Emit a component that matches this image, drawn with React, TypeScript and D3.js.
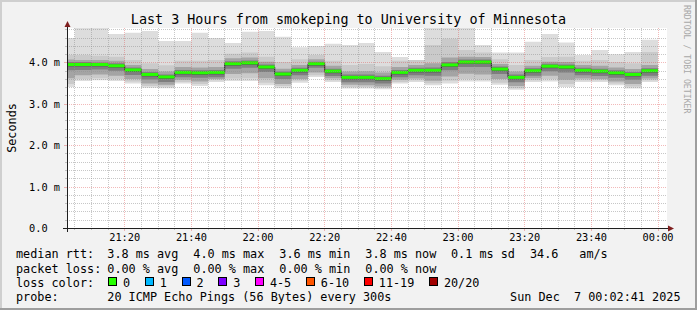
import React from "react";
import * as d3 from "d3";

// ---- data ----
const medianRtt = [3.96, 3.96, 3.96, 3.93, 3.83, 3.72, 3.66, 3.77, 3.76, 3.77, 3.98, 4.0, 3.9, 3.73, 3.82, 3.98, 3.8, 3.65, 3.65, 3.62, 3.77, 3.82, 3.82, 3.95, 4.02, 4.02, 3.85, 3.65, 3.81, 3.92, 3.9, 3.82, 3.8, 3.76, 3.72, 3.81];
const ping20 = [4.6, 5.0, 5.0, 4.7, 4.73, 4.77, 4.53, 4.53, 4.73, 4.6, 4.48, 4.75, 4.77, 4.63, 4.38, 4.41, 4.46, 4.43, 4.48, 4.26, 4.14, 4.07, 5.0, 5.0, 5.0, 4.43, 4.25, 4.25, 4.51, 4.7, 4.49, 4.19, 4.31, 4.21, 4.26, 4.56];
const ping19 = [4.19, 4.19, 4.17, 4.15, 4.07, 3.99, 3.94, 4.05, 4.05, 4.07, 4.22, 4.25, 4.15, 4.02, 4.09, 4.19, 4.05, 3.95, 3.97, 3.92, 4.05, 4.07, 4.43, 4.58, 4.31, 4.25, 4.09, 3.95, 4.07, 4.14, 4.15, 4.05, 4.07, 4.02, 3.99, 4.26];
const ping17 = [4.08, 4.07, 4.07, 4.05, 3.95, 3.85, 3.79, 3.9, 3.89, 3.9, 4.11, 4.13, 4.03, 3.86, 3.95, 4.09, 3.93, 3.79, 3.8, 3.77, 3.9, 3.95, 3.99, 4.13, 4.15, 4.14, 3.97, 3.79, 3.93, 4.03, 4.02, 3.95, 3.93, 3.89, 3.85, 3.95];
const ping15 = [4.02, 4.02, 4.01, 3.99, 3.89, 3.78, 3.72, 3.83, 3.82, 3.83, 4.04, 4.06, 3.96, 3.79, 3.88, 4.03, 3.86, 3.72, 3.72, 3.69, 3.83, 3.88, 3.89, 4.02, 4.08, 4.08, 3.91, 3.72, 3.87, 3.98, 3.96, 3.88, 3.86, 3.82, 3.78, 3.87];
const ping13 = [3.99, 3.99, 3.99, 3.96, 3.86, 3.75, 3.69, 3.8, 3.79, 3.8, 4.01, 4.03, 3.93, 3.76, 3.85, 4.0, 3.83, 3.68, 3.68, 3.65, 3.8, 3.85, 3.85, 3.98, 4.05, 4.05, 3.88, 3.68, 3.84, 3.95, 3.93, 3.85, 3.83, 3.79, 3.75, 3.84];
const ping8 = [3.91, 3.91, 3.91, 3.88, 3.78, 3.67, 3.61, 3.72, 3.71, 3.72, 3.93, 3.95, 3.85, 3.68, 3.77, 3.93, 3.75, 3.6, 3.6, 3.57, 3.72, 3.77, 3.77, 3.9, 3.97, 3.97, 3.8, 3.6, 3.76, 3.87, 3.85, 3.77, 3.75, 3.71, 3.67, 3.76];
const ping6 = [3.82, 3.83, 3.84, 3.81, 3.71, 3.6, 3.54, 3.65, 3.64, 3.65, 3.86, 3.88, 3.78, 3.61, 3.7, 3.88, 3.68, 3.53, 3.53, 3.5, 3.65, 3.7, 3.69, 3.82, 3.9, 3.9, 3.73, 3.53, 3.69, 3.8, 3.77, 3.7, 3.68, 3.64, 3.59, 3.69];
const ping4 = [3.63, 3.7, 3.72, 3.69, 3.61, 3.5, 3.47, 3.59, 3.55, 3.61, 3.73, 3.75, 3.63, 3.49, 3.61, 3.77, 3.63, 3.47, 3.46, 3.43, 3.59, 3.62, 3.57, 3.67, 3.74, 3.72, 3.61, 3.44, 3.63, 3.69, 3.59, 3.62, 3.61, 3.55, 3.49, 3.62];
const ping2 = [3.49, 3.61, 3.63, 3.61, 3.55, 3.44, 3.43, 3.54, 3.49, 3.58, 3.62, 3.63, 3.52, 3.44, 3.57, 3.7, 3.58, 3.42, 3.42, 3.4, 3.54, 3.58, 3.51, 3.57, 3.61, 3.6, 3.52, 3.39, 3.58, 3.61, 3.49, 3.58, 3.58, 3.5, 3.43, 3.58];
const ping1 = [3.42, 3.56, 3.58, 3.56, 3.5, 3.4, 3.39, 3.5, 3.44, 3.54, 3.56, 3.56, 3.46, 3.39, 3.52, 3.66, 3.54, 3.38, 3.38, 3.36, 3.5, 3.54, 3.46, 3.5, 3.55, 3.55, 3.47, 3.35, 3.54, 3.55, 3.42, 3.54, 3.54, 3.46, 3.38, 3.54];

const xTickLabels = ["21:20", "21:40", "22:00", "22:20", "22:40", "23:00", "23:20", "23:40", "00:00"];
const xTickMinutes = [-160, -140, -120, -100, -80, -60, -40, -20, 0];
const yTickValues = [0, 1, 2, 3, 4];
const yTickLabels = ["0.0", "1.0 m", "2.0 m", "3.0 m", "4.0 m"];

const rttLegend = ["3.8 ms avg", "4.0 ms max", "3.6 ms min", "3.8 ms now", "0.1 ms sd"];
const lossLegend = ["0.00 % avg", "0.00 % max", "0.00 % min", "0.00 % now"];
const amsValue = "34.6";
const lossLabels = ["0", "1", "2", "3", "4-5", "6-10", "11-19", "20/20"];
const lossColors = ["#26ff00", "#00b8ff", "#0059ff", "#7e00ff", "#ff00ff", "#ff5500", "#ff0000", "#a10000"];
const probeText = "20 ICMP Echo Pings (56 Bytes) every 300s";
const dateText = "Sun Dec\u00a0\u00a07 00:02:41 2025";
const titleText = "Last 3 Hours from smokeping to University of Minnesota";

// ---- layout ----
const W = 697, H = 310;
const L = 67, R = 667, T = 28, B = 228;
const MONO = "DejaVu Sans Mono";
const startMin = -(177 + 19 / 60);
const endMin = 2 + 41 / 60;

export default function App() {
  const x = d3.scaleLinear().domain([startMin, endMin]).range([L, R]);
  const y = d3.scaleLinear().domain([0, 4.83]).range([B + 0.5, T + 0.5]);
  const snap = (v: number) => Math.round(v - 0.5) + 0.5;

  const n = medianRtt.length;
  const segs = d3.range(n).map((i) => {
    const end = -175 + 5 * i;
    return { start: Math.max(startMin, end - 5), end, i };
  });

  const bands = [
    { lo: ping1, hi: ping20, color: "#dddddd" },
    { lo: ping2, hi: ping19, color: "#cacaca" },
    { lo: ping4, hi: ping17, color: "#a4a4a4" },
    { lo: ping6, hi: ping15, color: "#7e7e7e" },
    { lo: ping8, hi: ping13, color: "#585858" },
  ];

  type P = { t: number; lo: number; hi: number };
  const area = d3
    .area<P>()
    .x((d) => x(d.t))
    .y0((d) => y(d.lo))
    .y1((d) => y(d.hi));
  const bandPaths = bands.map((b) => {
    const pts: P[] = [];
    segs.forEach((s) => {
      pts.push({ t: s.start, lo: b.lo[s.i], hi: b.hi[s.i] });
      pts.push({ t: s.end, lo: b.lo[s.i], hi: b.hi[s.i] });
    });
    return { d: area(pts) || "", color: b.color };
  });

  const medPts: [number, number][] = [];
  segs.forEach((s) => {
    medPts.push([x(s.start), y(medianRtt[s.i])]);
    medPts.push([x(s.end), y(medianRtt[s.i])]);
  });
  const medLine = d3.line()(medPts) || "";

  // grid
  const vMinor = d3.range(-175, endMin, 5).filter((m) => m % 20 !== 0);
  const vMajor = d3.range(-160, endMin, 20);
  const hAll = d3.range(1, 25).map((k) => k * 0.2);
  const hMinor = hAll.filter((v) => Math.abs(v - Math.round(v)) > 1e-6);
  const hMajor = [1, 2, 3, 4];
  const gridC = "rgba(143,143,143,0.5)";
  const mgridC = "rgba(222,79,79,0.4)";

  const legendCols = [107.3, 193.3, 279.3, 365.3, 451];
  const charW = 7.1;
  let bx = 108.3;
  const boxes = lossLabels.map((lab, i) => {
    const b = { x: bx, lx: bx + 14.8, lab, color: lossColors[i] };
    bx = b.lx + lab.length * charW + 14.8;
    return b;
  });

  return (
    <svg width={W} height={H} style={{ position: "absolute", left: 0, top: 0 }} fontFamily={MONO}>
      <defs>
        <clipPath id="cv">
          <rect x={L} y={T} width={R - L} height={B - T} />
        </clipPath>
      </defs>
      <rect x={0} y={0} width={W} height={H} fill="#f2f2f2" />
      <rect x={0} y={0} width={W} height={2} fill="#cfcfcf" />
      <rect x={0} y={0} width={2} height={H} fill="#cfcfcf" />
      <rect x={0} y={H - 2} width={W} height={2} fill="#9e9e9e" />
      <rect x={W - 2} y={0} width={2} height={H} fill="#9e9e9e" />

      <rect x={L} y={T} width={R - L} height={B - T} fill="#ffffff" />

      <g clipPath="url(#cv)">
        {bandPaths.map((b, i) => (
          <path key={i} d={b.d} fill={b.color} />
        ))}
        <path d={medLine} fill="none" stroke="#202020" strokeWidth={1} />
        {segs.map((s) => (
          <rect
            key={s.i}
            x={x(s.start)}
            width={x(s.end) - x(s.start)}
            y={y(medianRtt[s.i]) - 1.5}
            height={3}
            fill={lossColors[0]}
          />
        ))}
      </g>

      {/* grid */}
      <g shapeRendering="crispEdges">
        {hMinor.map((v, i) => (
          <g key={"hm" + i}>
            <line x1={L} x2={R} y1={snap(y(v))} y2={snap(y(v))} stroke={gridC} strokeDasharray="1,1" />
            <line x1={L - 2} x2={L} y1={snap(y(v))} y2={snap(y(v))} stroke={gridC} />
          </g>
        ))}
        {vMinor.map((m, i) => (
          <g key={"vm" + i}>
            <line x1={snap(x(m))} x2={snap(x(m))} y1={T} y2={B} stroke={gridC} strokeDasharray="1,1" />
            <line x1={snap(x(m))} x2={snap(x(m))} y1={B} y2={B + 2} stroke={gridC} />
          </g>
        ))}
        {hMajor.map((v, i) => (
          <g key={"hM" + i}>
            <line x1={L} x2={R} y1={snap(y(v))} y2={snap(y(v))} stroke={mgridC} strokeDasharray="1,1" />
            <line x1={L - 3} x2={L} y1={snap(y(v))} y2={snap(y(v))} stroke={mgridC} />
          </g>
        ))}
        {vMajor.map((m, i) => (
          <g key={"vM" + i}>
            <line x1={snap(x(m))} x2={snap(x(m))} y1={T} y2={B} stroke={mgridC} strokeDasharray="1,1" />
            <line x1={snap(x(m))} x2={snap(x(m))} y1={B} y2={B + 3} stroke={mgridC} />
          </g>
        ))}
        {/* axes */}
        <line x1={L - 4} x2={R + 2} y1={B + 0.5} y2={B + 0.5} stroke="#1f1f1f" />
        <line x1={L + 0.5} x2={L + 0.5} y1={B + 4} y2={T - 1} stroke="#1f1f1f" />
      </g>
      <path d={`M${R + 1},${B - 2.5} L${R + 7},${B + 0.5} L${R + 1},${B + 3.5} Z`} fill="#7f1f1f" />
      <path d={`M${L - 2.5},${T - 1} L${L + 0.5},${T - 7} L${L + 3.5},${T - 1} Z`} fill="#7f1f1f" />

      {/* axis labels */}
      {yTickValues.map((v, i) => (
        <text key={"yl" + i} x={29} y={y(v) + 3.6} fontSize={10.3} fill="#000000">
          {yTickLabels[i]}
        </text>
      ))}
      {xTickMinutes.map((m, i) => (
        <text key={"xl" + i} x={x(m)} y={241} fontSize={10.3} textAnchor="middle" fill="#000">
          {xTickLabels[i]}
        </text>
      ))}
      <text transform={`translate(15.5,128) rotate(-90)`} fontSize={11.8} textAnchor="middle" fill="#000">
        Seconds
      </text>
      <text x={348.5} y={23.5} fontSize={13.4} textAnchor="middle" fill="#000">
        {titleText}
      </text>
      <text transform={`translate(684,5) rotate(90)`} fontSize={8.2} fill="#a8a8a8">
        RRDTOOL / TOBI OETIKER
      </text>

      {/* legend */}
      <g fontSize={11.8} fill="#000">
        <text x={16} y={258}>median rtt:</text>
        {rttLegend.map((s, i) => (
          <text key={"r" + i} x={legendCols[i]} y={258}>
            {s}
          </text>
        ))}
        <text x={530} y={258}>{amsValue}</text>
        <text x={579.3} y={258}>am/s</text>

        <text x={16} y={272.5}>packet loss:</text>
        {lossLegend.map((s, i) => (
          <text key={"l" + i} x={legendCols[i]} y={272.5}>
            {s}
          </text>
        ))}

        <text x={16} y={286.5}>loss color:</text>
        {boxes.map((b, i) => (
          <g key={"b" + i}>
            <rect x={Math.round(b.x) + 0.5} y={277.5} width={8} height={8} fill={b.color} stroke="#000" />
            <text x={b.lx} y={286.5}>
              {b.lab}
            </text>
          </g>
        ))}

        <text x={16} y={300.8}>probe:</text>
        <text x={107.3} y={300.8}>{probeText}</text>
        <text x={680.5} y={300.8} textAnchor="end" style={{ whiteSpace: "pre" }}>
          {dateText}
        </text>
      </g>
    </svg>
  );
}
